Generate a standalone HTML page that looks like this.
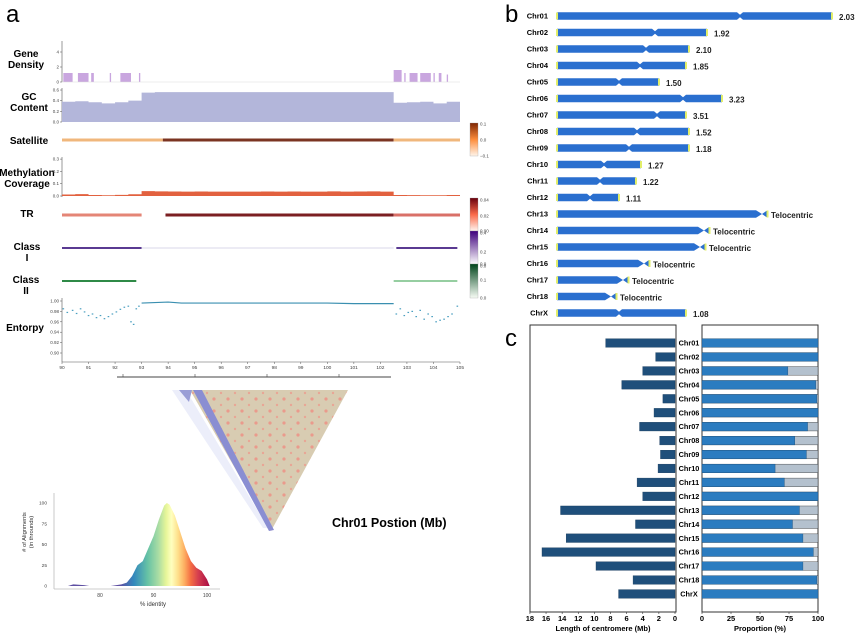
<!DOCTYPE html>
<html><head><meta charset="utf-8"><style>
body{margin:0;background:#fff}
svg{display:block;font-family:"Liberation Sans",Arial,sans-serif}
.b{font-weight:bold}
</style></head><body>
<svg id="fig" width="865" height="634" viewBox="0 0 865 634">
<defs>
<pattern id="dots" width="14" height="12" patternUnits="userSpaceOnUse"><rect width="14" height="12" fill="#d8ccb2"/><circle cx="4" cy="3" r="1.6" fill="#ea9a8c"/><circle cx="11" cy="9" r="1.2" fill="#e8a595"/></pattern>
<linearGradient id="spec" gradientUnits="userSpaceOnUse" x1="120" x2="212" y1="0" y2="0">
<stop offset="0" stop-color="#5e4fa2"/><stop offset="0.15" stop-color="#3288bd"/><stop offset="0.3" stop-color="#66c2a5"/><stop offset="0.42" stop-color="#abdda4"/><stop offset="0.5" stop-color="#e6f598"/><stop offset="0.56" stop-color="#ffffbf"/><stop offset="0.63" stop-color="#fee08b"/><stop offset="0.7" stop-color="#fdae61"/><stop offset="0.77" stop-color="#f46d43"/><stop offset="0.85" stop-color="#d53e4f"/><stop offset="1" stop-color="#9e0142"/></linearGradient>
<linearGradient id="cbSat" x1="0" y1="1" x2="0" y2="0"><stop offset="0" stop-color="#fff5eb"/><stop offset="0.5" stop-color="#fd8d3c"/><stop offset="1" stop-color="#7f2704"/></linearGradient>
<linearGradient id="cbTR" x1="0" y1="1" x2="0" y2="0"><stop offset="0" stop-color="#fff5f0"/><stop offset="0.5" stop-color="#fb6a4a"/><stop offset="1" stop-color="#67000d"/></linearGradient>
<linearGradient id="cbC1" x1="0" y1="1" x2="0" y2="0"><stop offset="0" stop-color="#fcfbfd"/><stop offset="1" stop-color="#3f007d"/></linearGradient>
<linearGradient id="cbC2" x1="0" y1="1" x2="0" y2="0"><stop offset="0" stop-color="#f7fcf5"/><stop offset="1" stop-color="#00441b"/></linearGradient>
</defs>
<g id="pa"></g>
<g id="pb"></g>
<g id="pc"></g>
</svg>
<script>
// ---------- Panel a data ----------
const mbTicks=[90,91,92,93,94,95,96,97,98,99,100,101,102,103,104,105];
const gcBins=[90,90.5,91,91.5,92,92.5,93,93.5,94,94.5,95,95.5,96,96.5,97,97.5,98,98.5,99,99.5,100,100.5,101,101.5,102,102.5,103,103.5,104,104.5];
const gcVals=[0.38,0.39,0.37,0.35,0.37,0.40,0.55,0.56,0.56,0.56,0.56,0.56,0.56,0.56,0.56,0.56,0.56,0.56,0.56,0.56,0.56,0.56,0.56,0.56,0.56,0.36,0.37,0.38,0.35,0.38];
const geneStarts=[90.05,90.6,91.1,91.8,92.2,92.9,102.5,102.9,103.1,103.5,104.0,104.2,104.5];
const geneEnds=[90.4,91.0,91.2,91.85,92.6,92.95,102.8,102.95,103.4,103.9,104.05,104.3,104.55];
const geneVals=[1.2,1.2,1.2,1.2,1.2,1.2,1.6,1.2,1.2,1.2,1.2,1.2,1.0];
const methBins=[90,90.5,91,91.5,92,92.5,93,93.5,94,94.5,95,95.5,96,96.5,97,97.5,98,98.5,99,99.5,100,100.5,101,101.5,102,102.5,103,103.5,104,104.5];
const methVals=[0.012,0.015,0.008,0.006,0.009,0.014,0.04,0.038,0.037,0.036,0.037,0.036,0.036,0.036,0.036,0.037,0.036,0.037,0.036,0.036,0.038,0.036,0.037,0.038,0.036,0.008,0.007,0.006,0.006,0.008];
const entLeftX=[90.05,90.2,90.4,90.55,90.7,90.85,91.0,91.15,91.3,91.45,91.6,91.75,91.9,92.05,92.2,92.35,92.5,92.6,92.7,92.8,92.9];
const entLeftY=[0.985,0.978,0.982,0.976,0.985,0.979,0.972,0.975,0.968,0.972,0.966,0.97,0.975,0.979,0.984,0.988,0.99,0.96,0.955,0.985,0.99];
const entRightX=[102.6,102.75,102.9,103.05,103.2,103.35,103.5,103.65,103.8,103.95,104.1,104.25,104.4,104.55,104.7,104.9];
const entRightY=[0.975,0.985,0.972,0.978,0.98,0.97,0.982,0.965,0.975,0.97,0.96,0.963,0.965,0.97,0.975,0.99];
const entCenterX=[93,93.5,94,94.5,95,96,97,98,99,100,101,102,102.5];
const entCenterY=[0.996,0.997,0.998,0.996,0.996,0.996,0.996,0.996,0.996,0.996,0.995,0.995,0.995];
const histX=[74,75,76,77,78,82,84,85,86,87,88,89,90,91,92,92.5,93,94,95,96,97,98,99,100,100.5];
const histY=[0,2,1.5,1,0,0,2,4,12,25,30,45,60,80,97,100,98,85,65,45,30,22,18,8,0];
// ---------- Panel b data ----------
const chrNames=["Chr01","Chr02","Chr03","Chr04","Chr05","Chr06","Chr07","Chr08","Chr09","Chr10","Chr11","Chr12","Chr13","Chr14","Chr15","Chr16","Chr17","Chr18","ChrX"];
const chrLen=[275,150,132,129,102,165,129,132,132,84,79,62,208,150,146,90,69,57,129];
const cenPos=[183,98,89,83,62,126,100,80,72,47,43,33,208,150,146,90,69,57,62];
const chrNote=["2.03","1.92","2.10","1.85","1.50","3.23","3.51","1.52","1.18","1.27","1.22","1.11","Telocentric","Telocentric","Telocentric","Telocentric","Telocentric","Telocentric","1.08"];
// ---------- Panel c data ----------
const cenLenMb=[8.6,2.4,4.0,6.6,1.5,2.6,4.4,1.9,1.8,2.1,4.7,4.0,14.2,4.9,13.5,16.5,9.8,5.2,7.0];
const propPct=[100,100,74,98,99,100,91,80,90,63,71,100,84,78,87,96,87,99,100];
const lenTicks=[18,16,14,12,10,8,6,4,2,0];
const propTicks=[0,25,50,75,100];

const NS="http://www.w3.org/2000/svg";
function mk(parent,tag,attrs,text){const e=document.createElementNS(NS,tag);for(const k in attrs)e.setAttribute(k,attrs[k]);if(text!==undefined)e.textContent=text;parent.appendChild(e);return e;}
const pa=document.getElementById('pa'),pb=document.getElementById('pb'),pc=document.getElementById('pc');

// ===== Panel a =====
const X=v=>62+(v-90)*(398/15);
let t=mk(pa,'text',{x:6,y:22,'font-size':24});t.textContent='a';

function label(lines,cx,y0){lines.forEach((s,i)=>{const e=mk(pa,'text',{x:cx,y:y0+i*11,'font-size':10,'text-anchor':'middle',class:'b'},s);});}
function yaxis(x,y1,y2){mk(pa,'line',{x1:x,x2:x,y1:y1,y2:y2,stroke:'#555','stroke-width':0.6});}
function ytick(x,y,s){mk(pa,'line',{x1:x-2,x2:x,y1:y,y2:y,stroke:'#555','stroke-width':0.5});mk(pa,'text',{x:x-3,y:y+1.5,'font-size':4.5,'text-anchor':'end',fill:'#444'},s);}
// Gene density
label(['Gene','Density'],26,57);yaxis(62,41,82);
const gY=v=>82-v*7.5;
[[0,'0'],[2,'2'],[4,'4']].forEach(d=>ytick(62,gY(d[0]),d[1]));
geneStarts.forEach((s,i)=>{const r=mk(pa,'rect',{x:X(s),y:gY(geneVals[i]),width:Math.max(0.8,X(geneEnds[i])-X(s)),height:82-gY(geneVals[i]),fill:'#c9a6df'});});
mk(pa,'line',{x1:62,x2:460,y1:82,y2:82,stroke:'#ddd','stroke-width':0.5});
// GC
label(['GC','Content'],29,100);yaxis(62,88,122);
const gcY=v=>122-v*53.3;
[[0,'0.0'],[0.2,'0.2'],[0.4,'0.4'],[0.6,'0.6']].forEach(d=>ytick(62,gcY(d[0]),d[1]));
let gp='M'+X(90)+',122';gcBins.forEach((b,i)=>{gp+=' L'+X(b)+','+gcY(gcVals[i])+' L'+X(b+0.5)+','+gcY(gcVals[i]);});gp+=' L'+X(105)+',122Z';
let e=mk(pa,'path',{d:gp,fill:'#b3b6da'});
// Satellite
label(['Satellite'],29,144);
e=mk(pa,'rect',{x:X(90),y:138.5,width:X(93.8)-X(90),height:3,fill:'#f0b77c'});
mk(pa,'rect',{x:X(93.8),y:138.5,width:X(102.5)-X(93.8),height:3,fill:'#7b3422'});
mk(pa,'rect',{x:X(102.5),y:138.5,width:X(105)-X(102.5),height:3,fill:'#f0b77c'});
// colorbars
function cbar(y,h,fill,ticks,name){const r=mk(pa,'rect',{x:470,y:y,width:8,height:h,fill:fill,stroke:'#999','stroke-width':0.3});ticks.forEach(tk=>{mk(pa,'text',{x:480,y:tk[0]+1.5,'font-size':4.5,fill:'#444'},tk[1]);});}
cbar(123,33,'url(#cbSat)',[[124,'0.1'],[140,'0.0'],[156,'−0.1']],'satellite-colorbar');
// Methylation
label(['Methylation','Coverage'],27,176);yaxis(62,157,197);
const mY=v=>196-v*123;
[[0,'0.0'],[0.1,'0.1'],[0.2,'0.2'],[0.3,'0.3']].forEach(d=>ytick(62,mY(d[0]),d[1]));
let mp='M'+X(90)+',196';methBins.forEach((b,i)=>{mp+=' L'+X(b)+','+mY(methVals[i])+' L'+X(b+0.5)+','+mY(methVals[i]);});mp+=' L'+X(105)+',196Z';
e=mk(pa,'path',{d:mp,fill:'#e2613f'});
// TR
label(['TR'],27,217);
e=mk(pa,'rect',{x:X(90),y:213.5,width:X(93)-X(90),height:3,fill:'#e48576'});
mk(pa,'rect',{x:X(93.9),y:213.5,width:X(102.5)-X(93.9),height:3,fill:'#7b1f22'});
mk(pa,'rect',{x:X(102.5),y:213.5,width:X(105)-X(102.5),height:3,fill:'#d97068'});
cbar(198,33,'url(#cbTR)',[[200,'0.04'],[216,'0.02'],[231,'0.00']],'tr-colorbar');
// Class I
label(['Class','I'],27,250);
e=mk(pa,'rect',{x:X(90),y:247,width:X(93)-X(90),height:2,fill:'#5a3a92'});
mk(pa,'rect',{x:X(93),y:247.5,width:X(102.5)-X(93),height:1,fill:'#d9d7e8'});
mk(pa,'rect',{x:X(102.6),y:247,width:X(104.9)-X(102.6),height:2,fill:'#5a3a92'});
cbar(231,33,'url(#cbC1)',[[233,'0.4'],[252,'0.2'],[264,'0.0']],'class-i-colorbar');
// Class II
label(['Class','II'],26,283);
e=mk(pa,'rect',{x:X(90),y:280,width:X(92.8)-X(90),height:2,fill:'#2f8a47'});
mk(pa,'rect',{x:X(102.5),y:280.3,width:X(104.9)-X(102.5),height:1.4,fill:'#6ab879'});
cbar(264,34,'url(#cbC2)',[[266,'0.0'],[280,'0.1'],[298,'0.0']],'class-ii-colorbar');
// Entropy
label(['Entorpy'],25,331);yaxis(62,298,362);
const eY=v=>301+(1-v)*520;
[[1,'1.00'],[0.98,'0.98'],[0.96,'0.96'],[0.94,'0.94'],[0.92,'0.92'],[0.9,'0.90']].forEach(d=>ytick(62,eY(d[0]),d[1]));
mk(pa,'line',{x1:62,x2:460,y1:362,y2:362,stroke:'#555','stroke-width':0.6});
mbTicks.forEach(v=>{mk(pa,'line',{x1:X(v),x2:X(v),y1:362,y2:364,stroke:'#555','stroke-width':0.5});const tx=mk(pa,'text',{x:X(v),y:369,'font-size':4.8,'text-anchor':'middle',fill:'#444'},String(v));});
entLeftX.forEach((v,i)=>{const c=mk(pa,'rect',{x:X(v)-0.8,y:eY(entLeftY[i])-0.6,width:1.6,height:1.2,fill:'#4a9fc0'});});
entRightX.forEach((v,i)=>{const c=mk(pa,'rect',{x:X(v)-0.8,y:eY(entRightY[i])-0.6,width:1.6,height:1.2,fill:'#4a9fc0'});});
e=mk(pa,'polyline',{points:entCenterX.map((v,i)=>X(v)+','+eY(entCenterY[i])).join(' '),fill:'none',stroke:'#3a8fb0','stroke-width':1.2});
// position bar + triangle
e=mk(pa,'line',{x1:117,x2:391,y1:377,y2:377,stroke:'#444','stroke-width':1});
[123,195,267,339].forEach(x=>mk(pa,'line',{x1:x,x2:x,y1:374,y2:377,stroke:'#444','stroke-width':0.6}));
mk(pa,'polygon',{points:'172,390 186,390 268,528 263,528',fill:'#eceefa'});
e=mk(pa,'polygon',{points:'190,390 348,390 271,531',fill:'url(#dots)'});
mk(pa,'polygon',{points:'193,390 202,390 274,530 269,531',fill:'#8a8ed2'});
mk(pa,'polygon',{points:'179,390 192,390 189,402',fill:'#9a9ed6'});
e=mk(pa,'text',{x:332,y:527,'font-size':12.5,class:'b'},'Chr01 Postion (Mb)');
// histogram
const hX=v=>100+(v-80)*5.35, hY=v=>586-v*0.83;
mk(pa,'line',{x1:54,x2:54,y1:493,y2:589,stroke:'#bbb','stroke-width':0.8});
mk(pa,'line',{x1:54,x2:220,y1:589,y2:589,stroke:'#bbb','stroke-width':0.8});
[0,25,50,75,100].forEach(v=>{mk(pa,'text',{x:47,y:hY(v)+1.5,'font-size':4.8,'text-anchor':'end',fill:'#444'},String(v));});
[80,90,100].forEach(v=>{mk(pa,'text',{x:hX(v),y:597,'font-size':5,'text-anchor':'middle',fill:'#444'},String(v));});
let hp='M'+hX(histX[0])+','+hY(0);histX.forEach((v,i)=>hp+=' L'+hX(v)+','+hY(histY[i]));hp+='Z';
e=mk(pa,'path',{d:hp,fill:'url(#spec)'});
e=mk(pa,'text',{x:153,y:606,'font-size':6,'text-anchor':'middle',fill:'#333'},'% identity');
e=mk(pa,'text',{x:0,y:0,'font-size':5.8,'text-anchor':'middle',fill:'#333',transform:'translate(26,532) rotate(-90)'});
mk(e,'tspan',{x:0,dy:0},'# of Alignments');mk(e,'tspan',{x:0,dy:7},'(in throunds)');


// ===== Panel b =====
t=mk(pb,'text',{x:505,y:22,'font-size':24},'b');
const bX=v=>557+v, rowY=i=>16+i*16.5;
chrNames.forEach((n,i)=>{
 const y=rowY(i), L=bX(chrLen[i]), C=bX(cenPos[i]), tel=chrNote[i]==='Telocentric';
 let tx=mk(pb,'text',{x:548,y:y+2.5,'font-size':7.5,'text-anchor':'end',class:'b'},n);
 let d;
 if(!tel){d=`M${bX(0)},${y-3.8} L${C-3},${y-3.8} L${C},${y-1.2} L${C+3},${y-3.8} L${L},${y-3.8} L${L},${y+3.8} L${C+3},${y+3.8} L${C},${y+1.2} L${C-3},${y+3.8} L${bX(0)},${y+3.8}Z`;}
 else{d=`M${bX(0)},${y-3.8} L${L-9},${y-3.8} L${L-3},${y} L${L-9},${y+3.8} L${bX(0)},${y+3.8}Z M${L-3},${y} L${L+2},${y-3.5} L${L+2},${y+3.5}Z`;}
 const p=mk(pb,'path',{d:d,fill:'#2a6fcf'});
 mk(pb,'rect',{x:bX(0)-1,y:y-3.5,width:2,height:7,fill:'#e2ee6a'});
 mk(pb,'rect',{x:(tel?L+1.5:L-1),y:y-3.5,width:2,height:7,fill:'#e2ee6a'});
 tx=mk(pb,'text',{x:(tel?L+6:L+7),y:y+4,'font-size':8,class:'b',fill:'#222'},chrNote[i]);
});

// ===== Panel c =====
t=mk(pc,'text',{x:505,y:346,'font-size':24},'c');
const lX=v=>675-v*8.06, pX=v=>702+v*1.16, cY=i=>343+i*13.94;
e=mk(pc,'rect',{x:530,y:325,width:146,height:287,fill:'none',stroke:'#333','stroke-width':1});
e=mk(pc,'rect',{x:702,y:325,width:116,height:287,fill:'none',stroke:'#333','stroke-width':1});
chrNames.forEach((n,i)=>{
 const y=cY(i);
 let r=mk(pc,'rect',{x:lX(cenLenMb[i]),y:y-4.3,width:lX(0)-lX(cenLenMb[i]),height:8.6,fill:'#1f4f7b',stroke:'#163a5c','stroke-width':0.4});
 r=mk(pc,'rect',{x:pX(0),y:y-4.3,width:pX(100)-pX(0),height:8.6,fill:'#b4c1ce',stroke:'#333','stroke-width':0.4});
 r=mk(pc,'rect',{x:pX(0),y:y-4.3,width:pX(propPct[i])-pX(0),height:8.6,fill:'#2b7cc0',stroke:'#1d4f7a','stroke-width':0.4});
 const tx=mk(pc,'text',{x:689,y:y+2.6,'font-size':7.3,'text-anchor':'middle',class:'b'},n);
});
lenTicks.forEach(v=>{mk(pc,'line',{x1:lX(v),x2:lX(v),y1:612,y2:614,stroke:'#333','stroke-width':0.6});const tx=mk(pc,'text',{x:lX(v),y:621,'font-size':7.5,'text-anchor':'middle',class:'b'},String(v));});
propTicks.forEach(v=>{mk(pc,'line',{x1:pX(v),x2:pX(v),y1:612,y2:614,stroke:'#333','stroke-width':0.6});const tx=mk(pc,'text',{x:pX(v),y:621,'font-size':7.5,'text-anchor':'middle',class:'b'},String(v));});
e=mk(pc,'text',{x:603,y:631,'font-size':7.5,'text-anchor':'middle',class:'b'},'Length of centromere (Mb)');
e=mk(pc,'text',{x:760,y:631,'font-size':7.5,'text-anchor':'middle',class:'b'},'Proportion (%)');
</script>
</body></html>
